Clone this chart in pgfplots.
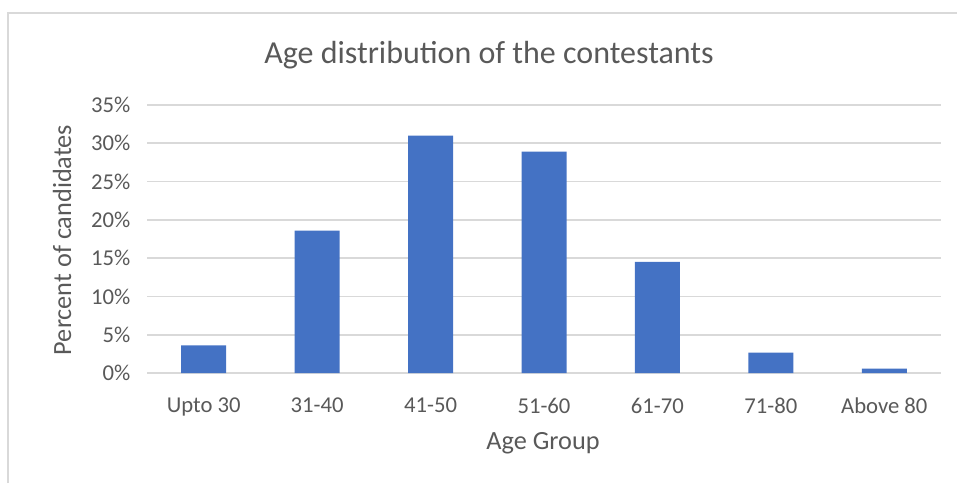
\documentclass[border=0pt]{standalone}
\usepackage{pgfplots}
\pgfplotsset{compat=1.18}
\usepackage{fontspec}
\setmainfont{Carlito}
\definecolor{barc}{HTML}{4472C4}
\definecolor{gridc}{HTML}{D9D9D9}
\definecolor{txt}{HTML}{595959}
\begin{document}
\begin{tikzpicture}[x=0.75pt,y=0.75pt]
\path[use as bounding box] (0,0) rectangle (957,483);
\draw[gridc, line width=1.2pt] (8,0) -- (8,470) -- (957,470);
\begin{axis}[
  at={(110.25pt,82.5pt)}, anchor=south west,
  scale only axis, width=595.5pt, height=201pt,
  xmin=-0.5, xmax=6.5, ymin=0, ymax=35,
  xtick=data,
  xticklabels={Upto 30,31-40,41-50,51-60,61-70,71-80,Above 80},
  ytick={0,5,...,35},
  yticklabel={\pgfmathprintnumber{\tick}\%},
  /pgf/number format/assume math mode=true,
  xmajorgrids=false,
  ymajorgrids=true,
  y grid style={gridc, line width=1.2pt},
  axis line style={draw=none},
  major tick length=0pt,
  tick label style={font=\fontsize{17}{20}\selectfont, text=txt},
  xticklabel style={yshift=-15pt},
  yticklabel style={xshift=-9pt},
]
\addplot[ybar, bar width=33.75pt, fill=barc, draw=none] coordinates {
 (0,3.6) (1,18.6) (2,31.0) (3,28.9) (4,14.5) (5,2.65) (6,0.56)
};
\end{axis}
\node[text=txt, font=\fontsize{24}{28}\selectfont] at (489,428) {Age distribution of the contestants};
\node[text=txt, font=\fontsize{19.7}{22}\selectfont] at (543,40) {Age Group};
\node[text=txt, font=\fontsize{19.7}{22}\selectfont, rotate=90] at (62,243) {Percent of candidates};
\end{tikzpicture}
\end{document}
